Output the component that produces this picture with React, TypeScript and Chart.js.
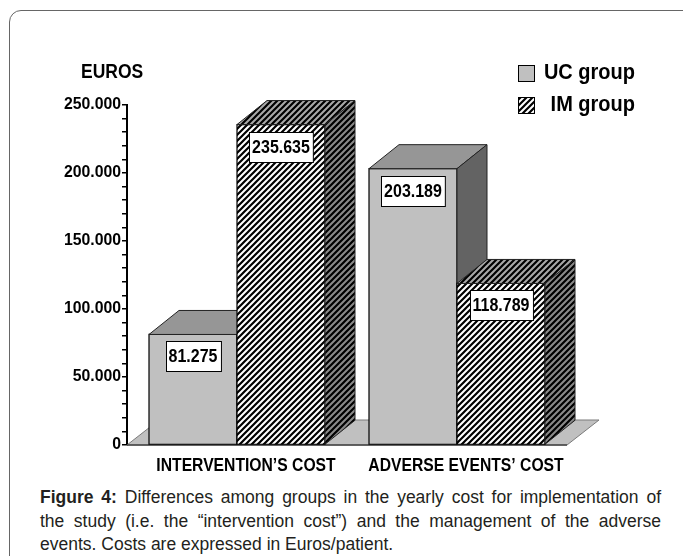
import React, { useEffect, useRef } from "react";
import { Chart, registerables } from "chart.js";

Chart.register(...registerables);

// ---- data ----
const categories = ["INTERVENTION\u2019S COST", "ADVERSE EVENTS\u2019 COST"];
const seriesNames = ["UC group", "IM group"];
const ucValues = [81275, 203189];
const imValues = [235635, 118789];
const yMax = 250000;
const yStep = 10000;
const yLabelStep = 50000;
const yAxisTitle = "EUROS";
const captionBold = "Figure 4:";
const captionLines = [
  " Differences among groups in the yearly cost for implementation of",
  "the study (i.e. the \u201cintervention cost\u201d) and the management of the adverse",
  "events. Costs are expressed in Euros/patient.",
];

// ---- styling ----
const FONT = "'Liberation Sans', Arial, sans-serif";
const DX = 30;
const DY = -24;
const FDX = 32;
const FDY = -25;
const SY = 1.12;
const X_LABEL_SHIFT = 9;

function fmt(v: number): string {
  if (v === 0) return "0";
  const th = Math.floor(v / 1000);
  const rest = String(v % 1000).padStart(3, "0");
  return th + "." + rest;
}

function hatch(bg: string, line: string, p = 6, lw = 2.2): CanvasPattern | string {
  const c = document.createElement("canvas");
  c.width = p;
  c.height = p;
  const g = c.getContext("2d");
  if (!g) return bg;
  g.fillStyle = bg;
  g.fillRect(0, 0, p, p);
  g.strokeStyle = line;
  g.lineWidth = lw;
  g.beginPath();
  g.moveTo(-1, p + 1);
  g.lineTo(p + 1, -1);
  g.moveTo(-p - 1, p + 1);
  g.lineTo(1, -1);
  g.moveTo(p - 1, p + 1);
  g.lineTo(2 * p + 1, -1);
  g.stroke();
  const pat = g.createPattern(c, "repeat");
  return pat || bg;
}

function stretchedText(
  ctx: CanvasRenderingContext2D,
  text: string,
  x: number,
  y: number,
  font: string,
  align: CanvasTextAlign = "left"
) {
  ctx.save();
  ctx.translate(x, y);
  ctx.scale(1, SY);
  ctx.font = font;
  ctx.textAlign = align;
  ctx.textBaseline = "middle";
  ctx.fillStyle = "#000";
  ctx.fillText(text, 0, 0);
  ctx.restore();
}

function poly(ctx: CanvasRenderingContext2D, pts: number[][], fill: any, stroke = "#000", lw = 1) {
  ctx.beginPath();
  ctx.moveTo(pts[0][0], pts[0][1]);
  for (let i = 1; i < pts.length; i++) ctx.lineTo(pts[i][0], pts[i][1]);
  ctx.closePath();
  ctx.fillStyle = fill;
  ctx.fill();
  ctx.strokeStyle = stroke;
  ctx.lineWidth = lw;
  ctx.stroke();
}

export default function App() {
  const ref = useRef<HTMLCanvasElement | null>(null);

  useEffect(() => {
    const canvas = ref.current;
    if (!canvas) return;

    const faces = [
      { front: "#c0c0c0", top: "#969696", side: "#636363" },
      {
        front: hatch("#ffffff", "#000000"),
        top: hatch("#a8a8a8", "#000000"),
        side: hatch("#8a8a8a", "#000000"),
      },
    ];

    const plugin = {
      id: "bar3d",
      beforeDatasetsDraw(chart: any) {
        const ctx: CanvasRenderingContext2D = chart.ctx;
        const { left, right } = chart.chartArea;
        const y0 = chart.scales.y.getPixelForValue(0);
        ctx.save();
        poly(
          ctx,
          [
            [left, y0],
            [left + FDX, y0 + FDY],
            [right + FDX, y0 + FDY],
            [right, y0],
          ],
          "#c0c0c0",
          "#7a7a7a",
          1
        );
        ctx.beginPath();
        ctx.moveTo(left, y0);
        ctx.lineTo(right, y0);
        ctx.strokeStyle = "#444";
        ctx.lineWidth = 1.5;
        ctx.stroke();
        ctx.restore();
      },
      afterDatasetsDraw(chart: any) {
        const ctx: CanvasRenderingContext2D = chart.ctx;
        ctx.save();
        const boxes: any[] = [];
        for (let d = 0; d < chart.data.datasets.length; d++) {
          const meta = chart.getDatasetMeta(d);
          const f = faces[d];
          meta.data.forEach((el: any, i: number) => {
            const { x, y, base, width } = el.getProps(["x", "y", "base", "width"], true);
            const l = x - width / 2;
            const r = x + width / 2;
            poly(ctx, [[l, y], [r, y], [r, base], [l, base]], f.front, "#000", 1.2);
            poly(ctx, [[l, y], [l + DX, y + DY], [r + DX, y + DY], [r, y]], f.top, "#222", 1);
            poly(ctx, [[r, y], [r + DX, y + DY], [r + DX, base + DY], [r, base]], f.side, "#222", 1);
            boxes.push({ x, y, v: chart.data.datasets[d].data[i] });
          });
        }
        // value boxes
        const vf = `bold 16px ${FONT}`;
        boxes.forEach((b) => {
          const t = fmt(b.v);
          ctx.font = vf;
          const w = ctx.measureText(t).width + 6;
          const h = 30;
          const bx = Math.round(b.x - w / 2) + 0.5;
          const by = Math.round(b.y + 7) + 0.5;
          ctx.fillStyle = "#fff";
          ctx.fillRect(bx, by, w, h);
          ctx.strokeStyle = "#000";
          ctx.lineWidth = 1;
          ctx.strokeRect(bx, by, w, h);
          stretchedText(ctx, t, b.x, by + h / 2 + 1, vf, "center");
        });
        // category labels
        const xs = chart.scales.x;
        const y0 = chart.scales.y.getPixelForValue(0);
        chart.data.labels.forEach((lab: string, i: number) => {
          stretchedText(ctx, lab, xs.getPixelForValue(i) + X_LABEL_SHIFT, y0 + 21, `bold 15.7px ${FONT}`, "center");
        });
        // axis title
        stretchedText(ctx, yAxisTitle, 81, 73, `bold 17.5px ${FONT}`, "left");
        // legend
        const lx = 518;
        const rows = [73, 105];
        rows.forEach((ry, d) => {
          ctx.fillStyle = faces[d].front as any;
          ctx.fillRect(lx + 0.5, ry - 8 + 0.5, 16, 16);
          ctx.strokeStyle = "#000";
          ctx.lineWidth = 1;
          ctx.strokeRect(lx + 0.5, ry - 8 + 0.5, 16, 16);
          stretchedText(ctx, chart.data.datasets[d].label, 635, ry, `bold 20px ${FONT}`, "right");
        });
        ctx.restore();
      },
    };

    const chart = new Chart(canvas, {
      type: "bar",
      data: {
        labels: categories,
        datasets: [
          { label: seriesNames[0], data: ucValues, backgroundColor: "rgba(0,0,0,0)", borderWidth: 0 },
          { label: seriesNames[1], data: imValues, backgroundColor: "rgba(0,0,0,0)", borderWidth: 0 },
        ],
      },
      options: {
        responsive: false,
        animation: false,
        devicePixelRatio: 1,
        events: [],
        datasets: { bar: { categoryPercentage: 0.8, barPercentage: 1.0 } },
        layout: { padding: { left: 0, right: 116, top: 105, bottom: 0 } },
        plugins: { legend: { display: false }, tooltip: { enabled: false }, title: { display: false } },
        scales: {
          x: {
            type: "category",
            offset: true,
            grid: { display: false, drawTicks: false },
            border: { display: false },
            ticks: { display: false },
            afterFit(s: any) {
              s.height = 35;
            },
          },
          y: {
            min: 0,
            max: yMax,
            ticks: {
              stepSize: yStep,
              autoSkip: false,
              color: "#000",
              font: { family: FONT, weight: "bold", size: 15.8 },
              padding: 1,
              callback: (v: any) => (Number(v) % yLabelStep === 0 ? fmt(Number(v)) : ""),
            },
            grid: { drawOnChartArea: false, drawTicks: true, tickLength: 5, color: "#000", lineWidth: 1.5 },
            border: { display: true, color: "#000", width: 2 },
            afterFit(s: any) {
              s.width = 127;
            },
          },
        },
      },
      plugins: [plugin],
    } as any);

    return () => chart.destroy();
  }, []);

  const lineStyle: React.CSSProperties = {
    height: 23.5,
    lineHeight: "23.5px",
    whiteSpace: "nowrap",
  };

  return (
    <div
      style={{
        position: "fixed",
        left: 0,
        top: 0,
        width: 683,
        height: 556,
        overflow: "hidden",
        background: "#fff",
      }}
    >
      <div
        style={{
          position: "absolute",
          left: 9,
          top: 10,
          width: 720,
          height: 620,
          border: "1.5px solid #666",
          borderTopLeftRadius: 12,
          boxSizing: "border-box",
        }}
      />
      <canvas ref={ref} width={683} height={480} style={{ position: "absolute", left: 0, top: 0 }} />
      <div
        style={{
          position: "absolute",
          left: 40,
          top: 486,
          width: 621,
          fontFamily: FONT,
          fontSize: 17.5,
          color: "#231f20",
        }}
      >
        <div style={{ ...lineStyle, textAlign: "justify", textAlignLast: "justify", whiteSpace: "normal" }}>
          <b>{captionBold}</b>
          {captionLines[0]}
        </div>
        <div style={{ ...lineStyle, textAlign: "justify", textAlignLast: "justify", whiteSpace: "normal" }}>
          {captionLines[1]}
        </div>
        <div style={lineStyle}>{captionLines[2]}</div>
      </div>
    </div>
  );
}
